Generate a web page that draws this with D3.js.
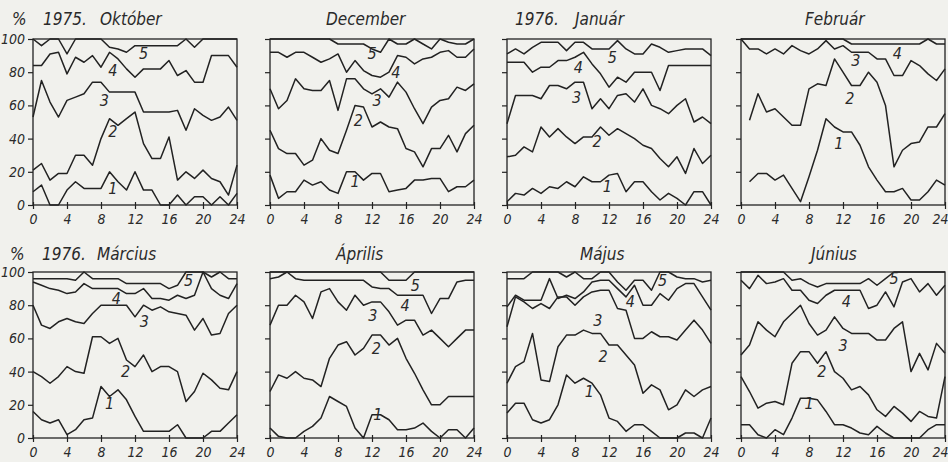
<!DOCTYPE html>
<html>
<head>
<meta charset="utf-8">
<script src="https://cdn.jsdelivr.net/npm/d3@7"></script>
<style>
  html, body { margin: 0; padding: 0; background: #f1f1ed; }
  svg { display: block; }
  text { font-family: "DejaVu Sans Condensed", "Liberation Sans Narrow", sans-serif; font-style: oblique; fill: #2a2a2a; }
</style>
</head>
<body>
<svg id="chart" width="948" height="462"></svg>
<script>
// Hourly share (%) of each class, cumulative curves 1..5, hours 0..24
const hours = d3.range(0, 25);
const yTicks = [0, 20, 40, 60, 80, 100];
const xTicks = [0, 4, 8, 12, 16, 20, 24];

// 1975. Október
const okt1 = [8,12,0,0,9,14,10,10,10,20,14,9,20,9,9,0,0,6,0,5,5,0,5,0,7];
const okt2 = [21,25,15,19,19,30,30,24,40,52,48,52,56,37,28,28,41,15,20,16,21,16,14,6,24];
const okt3 = [53,75,62,53,63,65,67,74,74,68,68,68,68,56,56,56,56,57,45,58,54,51,53,59,51];
const okt4 = [84,84,91,92,79,89,86,90,83,92,88,82,77,82,82,82,87,78,81,74,74,90,90,90,83];
const okt5 = [100,96,100,100,91,100,100,100,100,95,94,92,96,96,96,96,96,96,100,95,100,100,100,100,100];

// December
const dec1 = [18,4,8,8,15,12,14,9,7,20,20,15,19,19,8,9,10,15,15,16,16,8,11,11,15];
const dec2 = [45,34,31,31,24,27,40,33,31,45,60,59,47,50,47,46,34,32,23,34,34,42,32,43,48];
const dec3 = [70,58,63,76,70,69,69,75,57,76,76,70,67,70,65,74,68,58,49,59,63,64,71,69,73];
const dec4 = [92,92,89,92,92,89,86,88,91,80,87,81,78,77,80,90,89,85,88,89,92,93,89,89,94];
const dec5 = [100,100,100,100,100,100,100,100,97,97,97,97,94,92,100,97,97,100,97,94,100,98,97,97,100];

// 1976. Január
const jan1 = [2,7,6,10,7,11,10,14,11,17,14,14,18,19,8,14,14,8,3,7,4,0,8,8,0];
const jan2 = [29,30,35,32,47,41,46,41,37,41,41,47,42,46,43,40,36,34,28,23,29,19,34,25,30];
const jan3 = [49,66,66,66,64,72,72,70,74,74,58,64,58,66,67,62,70,60,58,55,60,64,50,53,49];
const jan4 = [86,86,86,80,83,83,87,87,89,92,85,79,71,77,74,80,80,80,69,84,84,84,84,84,84];
const jan5 = [91,94,91,95,98,98,98,93,98,98,94,94,94,99,94,91,91,97,95,92,93,94,94,94,90];

// Február
const feb1 = [null,14,19,19,15,18,10,2,17,33,52,47,44,44,36,23,15,8,8,10,3,3,8,15,12];
const feb2 = [null,51,67,56,58,53,48,48,70,73,72,88,80,72,72,80,74,60,23,33,37,38,47,47,55];
const feb3 = [100,94,94,91,94,91,96,93,91,94,99,94,96,92,92,92,88,88,78,78,87,84,79,75,82];
const feb4 = [100,100,100,100,100,100,100,100,100,100,100,100,100,97,97,97,97,97,97,97,97,97,100,97,97];

// 1976. Március
const mar1 = [16,11,9,11,2,5,11,12,31,25,29,23,13,4,4,4,4,8,0,0,0,4,4,9,14];
const mar2 = [40,37,33,37,43,40,39,61,61,57,60,47,43,50,40,43,43,40,22,28,39,35,30,29,40];
const mar3 = [80,68,66,70,72,70,69,75,80,80,80,80,73,80,77,79,76,75,74,65,72,62,63,75,80];
const mar4 = [94,92,90,89,87,88,93,90,90,90,90,87,87,90,84,84,83,86,84,86,100,90,86,84,93];
const mar5 = [96,96,96,96,96,95,100,96,96,96,96,93,93,93,93,93,90,92,100,100,100,97,100,96,96];

// Április
const apr1 = [6,1,0,0,4,7,12,25,22,19,6,0,14,14,11,5,5,6,9,4,0,5,5,0,6];
const apr2 = [28,38,36,40,36,35,31,48,56,58,50,54,62,62,56,60,48,39,29,20,20,25,25,25,25];
const apr3 = [68,80,80,86,82,72,88,90,82,77,86,80,82,82,76,68,71,71,62,65,60,55,60,65,65];
const apr4 = [96,97,100,96,95,95,95,95,95,95,95,95,91,90,90,86,86,86,86,75,84,84,94,95,95];
const apr5 = [100,100,100,100,100,100,100,100,100,100,100,100,100,100,95,95,95,100,100,100,100,100,100,100,100];

// Május
const maj1 = [15,21,21,11,9,11,20,38,33,36,33,26,12,10,4,8,8,4,0,0,0,3,3,0,12];
const maj2 = [33,43,46,63,35,34,55,62,62,65,63,63,56,56,50,44,27,32,29,17,20,29,25,29,31];
const maj3 = [67,85,82,78,81,78,85,85,80,85,88,89,89,78,77,60,60,64,61,61,59,65,71,65,57];
const maj4 = [79,86,83,83,83,96,84,86,84,88,94,95,95,90,85,92,80,80,87,83,90,93,93,85,77];
const maj5 = [96,96,96,100,100,100,100,97,100,96,96,100,100,94,89,95,95,89,100,100,97,96,96,94,95];

// Június
const jun1 = [8,8,2,0,5,2,12,24,24,23,16,8,8,6,3,2,7,3,0,0,0,0,5,8,8];
const jun2 = [37,28,18,21,22,20,45,52,52,45,52,40,36,29,31,26,17,13,19,15,10,16,13,12,37];
const jun3 = [50,56,70,65,61,70,75,80,69,62,65,73,66,63,63,63,59,59,66,70,40,51,41,57,51];
const jun4 = [95,90,98,93,94,96,89,89,83,81,86,89,89,89,89,78,80,88,79,94,96,88,93,86,92];
const jun5 = [100,100,100,100,100,100,95,96,93,91,93,93,93,93,93,96,92,96,100,100,100,100,100,100,100];

// Curve numbers and where they are written (hour, %)
const oktLabels = [["1",9.4,10],["2",9.4,44],["3",8.4,63],["4",9.4,81],["5",13,91]];
const decLabels = [["1",10,14],["2",10.4,51],["3",12.6,63],["4",14.8,80],["5",12,91]];
const janLabels = [["1",11.8,11],["2",10.6,38],["3",8.2,65],["4",8.4,83],["5",12.4,89]];
const febLabels = [["1",11.5,37],["2",12.8,64],["3",13.5,87],["4",18.4,91]];
const marLabels = [["1",9,21],["2",10.9,40],["3",13.1,70],["4",9.8,84],["5",18.3,95]];
const aprLabels = [["1",12.7,14],["2",12.5,54],["3",12.1,74],["4",15.9,80],["5",17.1,92]];
const majLabels = [["1",9.7,28],["2",11.3,49],["3",10.7,71],["4",14.5,82],["5",18.3,95]];
const junLabels = [["1",8,21],["2",9.5,40],["3",12,56],["4",12.4,82],["5",18,96]];

// Panel headings: [text, x offset from the panel's left edge]
const oktTitle = [["%", -21], ["1975.", 10], ["Október", 67]];
const decTitle = [["December", 56]];
const janTitle = [["1976.", 8], ["Január", 68]];
const febTitle = [["Február", 64]];
const marTitle = [["%", -23], ["1976.", 9], ["Március", 64]];
const aprTitle = [["Április", 66]];
const majTitle = [["Május", 73]];
const junTitle = [["Június", 70]];

const panels = [
  { title: oktTitle, series: [okt1, okt2, okt3, okt4, okt5], labels: oktLabels },
  { title: decTitle, series: [dec1, dec2, dec3, dec4, dec5], labels: decLabels },
  { title: janTitle, series: [jan1, jan2, jan3, jan4, jan5], labels: janLabels },
  { title: febTitle, series: [feb1, feb2, feb3, feb4], labels: febLabels },
  { title: marTitle, series: [mar1, mar2, mar3, mar4, mar5], labels: marLabels },
  { title: aprTitle, series: [apr1, apr2, apr3, apr4, apr5], labels: aprLabels },
  { title: majTitle, series: [maj1, maj2, maj3, maj4, maj5], labels: majLabels },
  { title: junTitle, series: [jun1, jun2, jun3, jun4, jun5], labels: junLabels }
];

// Grid of small multiples
const colLeft = [33, 270, 507, 741];
const rowTop = [39, 272];
const titleGap = [14, 12];
const plotW = 204, plotH = 166;
const ink = "#222";

const svg = d3.select("#chart");

panels.forEach((p, i) => {
  const col = i % 4, row = Math.floor(i / 4);
  const left = colLeft[col], top = rowTop[row];
  const x = d3.scaleLinear().domain([0, 24]).range([left, left + plotW]);
  const y = d3.scaleLinear().domain([0, 100]).range([top + plotH, top]);

  const g = svg.append("g");

  // frame
  g.append("rect")
    .attr("x", x(0)).attr("y", y(100))
    .attr("width", x(24) - x(0)).attr("height", y(0) - y(100))
    .attr("fill", "none").attr("stroke", ink).attr("stroke-width", 1.3);

  // y axis
  const ya = g.append("g").attr("transform", `translate(${x(0)},0)`)
    .call(d3.axisLeft(y).tickValues(yTicks).tickSize(5).tickPadding(3)
      .tickFormat(col === 0 ? d3.format("d") : () => ""));
  ya.select(".domain").remove();
  ya.selectAll("line").attr("stroke", ink).attr("stroke-width", 1.2);
  ya.selectAll("text").style("font-size", "14px").attr("fill", "#2a2a2a").attr("font-family", null);

  // x axis
  const xa = g.append("g").attr("transform", `translate(0,${y(0)})`)
    .call(d3.axisBottom(x).tickValues(xTicks).tickSize(4).tickPadding(5).tickFormat(d3.format("d")));
  xa.select(".domain").remove();
  xa.selectAll("line").attr("stroke", ink).attr("stroke-width", 1.2).attr("y1", -3);
  xa.selectAll("text").style("font-size", "14px").attr("fill", "#2a2a2a").attr("font-family", null);
  // keep the last hour label inside the page on the right-hand column
  if (col === 3) {
    xa.selectAll(".tick").filter(d => d === 24).select("text")
      .attr("text-anchor", "end").attr("x", 3);
  }

  // curves
  const line = d3.line()
    .defined(d => d != null)
    .x((d, h) => x(hours[h]))
    .y(d => y(d));
  p.series.forEach(s => {
    g.append("path")
      .datum(s)
      .attr("d", line)
      .attr("fill", "none")
      .attr("stroke", ink)
      .attr("stroke-width", 1.5)
      .attr("stroke-linejoin", "round");
  });

  // curve numbers
  p.labels.forEach(([t, h, v]) => {
    g.append("text")
      .attr("x", x(h)).attr("y", y(v))
      .attr("text-anchor", "middle")
      .attr("dominant-baseline", "central")
      .style("font-size", "16px")
      .text(t);
  });

  // heading
  p.title.forEach(([t, dx]) => {
    g.append("text")
      .attr("x", left + dx).attr("y", top - titleGap[row])
      .style("font-size", "17px")
      .text(t);
  });
});
</script>
</body>
</html>
